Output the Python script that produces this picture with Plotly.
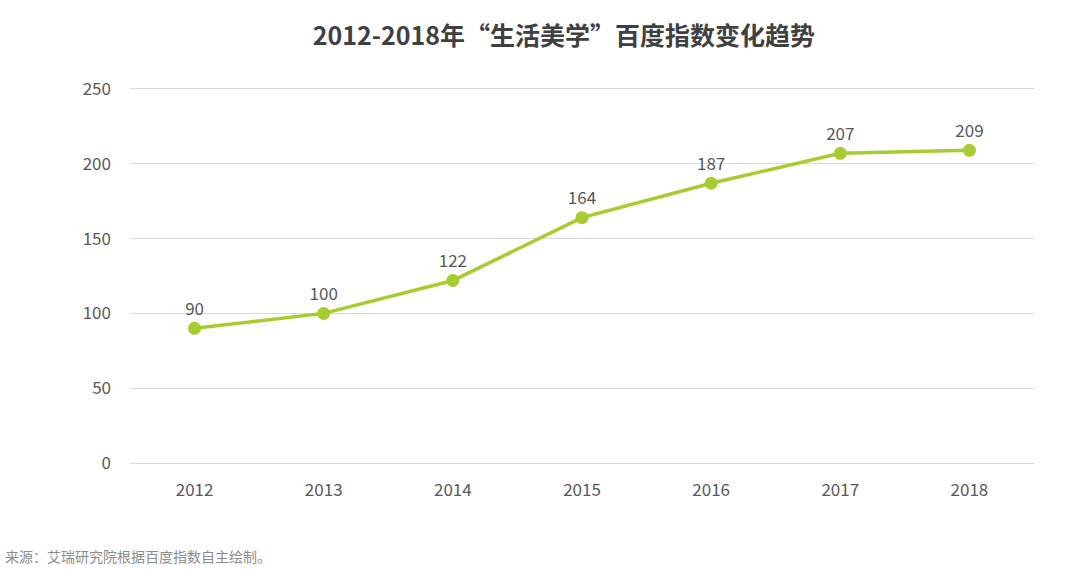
import plotly.graph_objects as go

years = ["2012", "2013", "2014", "2015", "2016", "2017", "2018"]
index_values = [90, 100, 122, 164, 187, 207, 209]
y_ticks = [0, 50, 100, 150, 200, 250]

FONT = "Noto Sans CJK SC"
GREEN = "#a8cb30"

fig = go.Figure()
fig.add_trace(go.Scatter(
    x=years, y=index_values, mode="lines+markers+text",
    line=dict(color=GREEN, width=3.5),
    marker=dict(color=GREEN, size=13),
    text=[str(v) for v in index_values], textposition="top center",
    textfont=dict(family=FONT, size=17, color="#595959"),
    cliponaxis=False, hoverinfo="skip",
))

fig.update_layout(
    width=1080, height=571,
    margin=dict(l=130, r=46, t=89, b=108),
    paper_bgcolor="white", plot_bgcolor="white",
    showlegend=False,
    title=dict(text="<b>2012-2018年“生活美学”百度指数变化趋势</b>",
               xref="paper", x=0.48, xanchor="center", y=0.937, yanchor="middle",
               font=dict(family=FONT, size=25, color="#404040")),
    xaxis=dict(type="category", range=[-0.5, 6.5], showgrid=False,
               showline=True, mirror=True, linecolor="#d9d9d9", linewidth=1,
               zeroline=False, ticks="", ticklabelstandoff=12,
               tickfont=dict(family=FONT, size=17, color="#595959")),
    yaxis=dict(range=[0, 250], tickvals=y_ticks, showgrid=True,
               gridcolor="#d9d9d9", gridwidth=1, zeroline=False,
               showline=False, ticks="", ticklabelstandoff=18,
               tickfont=dict(family=FONT, size=17, color="#595959")),
    annotations=[dict(text="来源：艾瑞研究院根据百度指数自主绘制。",
                      xref="paper", yref="paper", x=-127/904, y=-93/374,
                      xanchor="left", yanchor="middle", showarrow=False,
                      font=dict(family=FONT, size=14, color="#8c8c8c"))],
)

fig.write_html("out.html", config={"displayModeBar": False},
               post_script="document.body.style.margin='0';document.body.style.overflow='hidden';")
